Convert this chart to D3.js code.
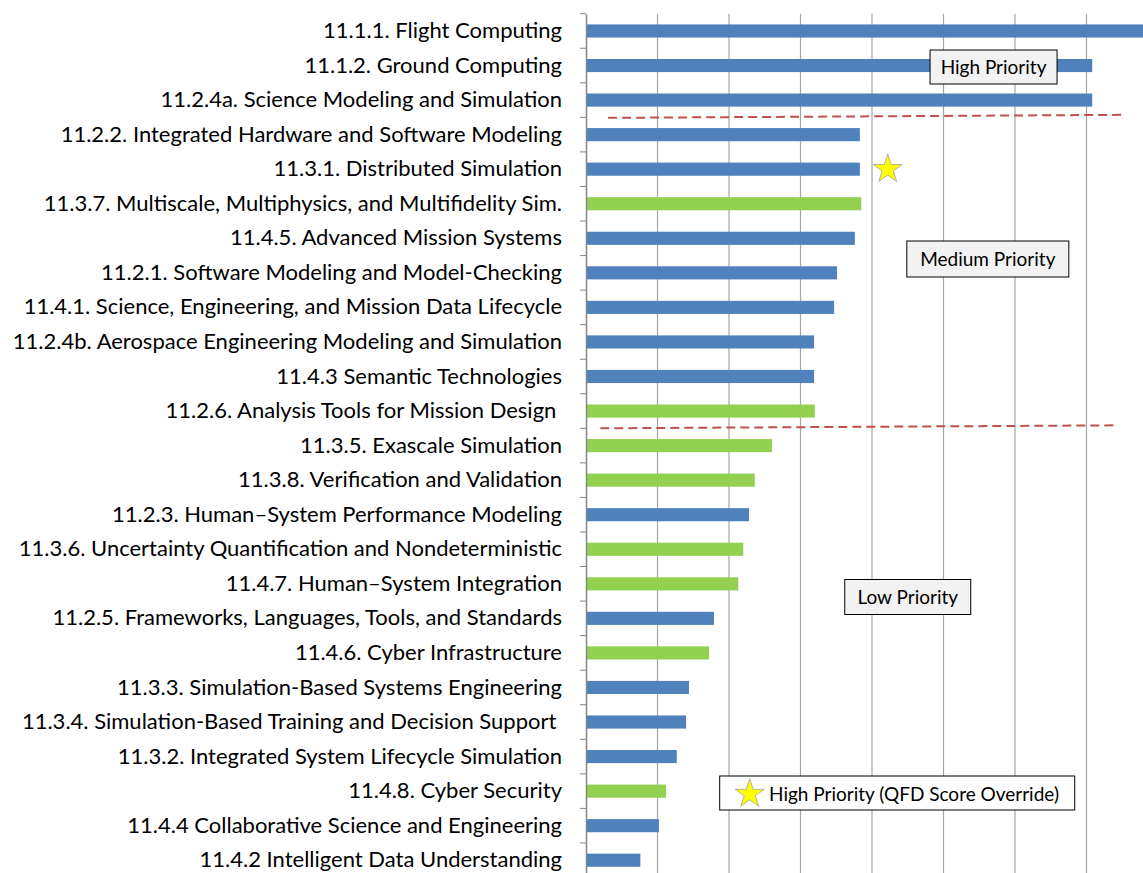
<!DOCTYPE html>
<html><head><meta charset="utf-8">
<script src="https://cdn.jsdelivr.net/npm/d3@7"></script>
<style>body{margin:0;background:#fff}svg{display:block}text{font-family:Lato,"Open Sans",sans-serif}</style>
</head><body>
<svg id="c" width="1143" height="873"></svg>
<script>
const categories = [
"11.1.1. Flight Computing",
"11.1.2. Ground Computing",
"11.2.4a. Science Modeling and Simulation",
"11.2.2. Integrated Hardware and Software Modeling",
"11.3.1. Distributed Simulation",
"11.3.7. Multiscale, Multiphysics, and Multifidelity Sim.",
"11.4.5. Advanced Mission Systems",
"11.2.1. Software Modeling and Model-Checking",
"11.4.1. Science, Engineering, and Mission Data Lifecycle",
"11.2.4b. Aerospace Engineering Modeling and Simulation",
"11.4.3 Semantic Technologies",
"11.2.6. Analysis Tools for Mission Design\u00a0",
"11.3.5. Exascale Simulation",
"11.3.8. Verification and Validation",
"11.2.3. Human\u2013System Performance Modeling",
"11.3.6. Uncertainty Quantification and Nondeterministic",
"11.4.7. Human\u2013System Integration",
"11.2.5. Frameworks, Languages, Tools, and Standards",
"11.4.6. Cyber Infrastructure",
"11.3.3. Simulation-Based Systems Engineering",
"11.3.4. Simulation-Based Training and Decision Support\u00a0",
"11.3.2. Integrated System Lifecycle Simulation",
"11.4.8. Cyber Security",
"11.4.4 Collaborative Science and Engineering",
"11.4.2 Intelligent Data Understanding"
];
const scores = [7.9,7.08,7.08,3.83,3.83,3.85,3.76,3.51,3.47,3.19,3.19,3.20,2.60,2.36,2.28,2.20,2.13,1.79,1.72,1.44,1.40,1.27,1.12,1.02,0.76];
const groups = ["a","a","a","a","a","b","a","a","a","a","a","b","b","b","a","b","b","a","b","a","a","a","b","a","a"];
const groupColors = {a:"#4F81BD", b:"#92D050"};
const xTicks = [1,2,3,4,5,6,7,8];
const priorityLabels = ["High Priority","Medium Priority","Low Priority"];
const legendLabel = "High Priority (QFD Score Override)";
const starCategory = "11.3.1. Distributed Simulation";

const svg = d3.select("#c");
const x = d3.scaleLinear().domain([0,8]).range([586,1158]);
const y = d3.scaleBand().domain(categories).range([13.7,877.5]).paddingInner(0.62).paddingOuter(0.31);
const step = y.step();

// gridlines
svg.append("g").selectAll("line").data(xTicks).join("line")
  .attr("x1",d=>x(d)).attr("x2",d=>x(d)).attr("y1",13.7).attr("y2",877.5)
  .attr("stroke","#A6A6A6").attr("stroke-width",1.2);

// bars
svg.append("g").selectAll("rect").data(categories).join("rect")
  .attr("x",x(0)).attr("y",d=>y(d)).attr("height",y.bandwidth())
  .attr("width",(d,i)=>x(scores[i])-x(0))
  .attr("fill",(d,i)=>groupColors[groups[i]]);

// axis
const ax = svg.append("g").attr("transform",`translate(${x(0)},0)`)
  .call(d3.axisLeft(y).tickSize(0).tickPadding(24));
ax.select(".domain").attr("stroke","#868686").attr("stroke-width",1.5);
ax.selectAll("text").attr("font-size",22).attr("fill","#000").style("white-space","pre");
// tick marks at band boundaries
const bounds = d3.range(categories.length+1).map(i=>13.7+i*step);
svg.append("g").selectAll("line").data(bounds).join("line")
  .attr("x1",x(0)-6).attr("x2",x(0)).attr("y1",d=>d).attr("y2",d=>d)
  .attr("stroke","#868686").attr("stroke-width",1);

// dashed separators
const b1 = y(categories[3]) - (step - y.bandwidth())/2;
const b2 = y(categories[12]) - (step - y.bandwidth())/2;
function dash(x1v,x2v,yb,dy1,dy2){
  svg.append("line").attr("x1",x(x1v)).attr("x2",x(x2v)).attr("y1",yb+dy1).attr("y2",yb+dy2)
   .attr("stroke","#C0504D").attr("stroke-width",2).attr("stroke-dasharray","9,5");
}
dash(0.31,7.5,b1,0.5,-2.5);
dash(0.2,7.42,b2,0,-3);

function box(cx,cy,w,h,label,fill){
  const g = svg.append("g");
  g.append("rect").attr("x",cx-w/2).attr("y",cy-h/2).attr("width",w).attr("height",h)
   .attr("fill",fill).attr("stroke","#000").attr("stroke-width",1);
  g.append("text").attr("x",cx).attr("y",cy).attr("text-anchor","middle").attr("dy","0.35em")
   .attr("font-size",19).text(label);
}
box(x(5.7),67,127,34,priorityLabels[0],"#F2F2F2");
box(x(5.62),259,162,36,priorityLabels[1],"#F2F2F2");
box(x(4.5),597,126,35,priorityLabels[2],"#F2F2F2");

// legend
const lg = svg.append("g");
lg.append("rect").attr("x",x(1.87)).attr("y",776).attr("width",355).attr("height",34)
  .attr("fill","#fff").attr("stroke","#000");
const star = d3.symbol().type(d3.symbolStar).size(260);
lg.append("path").attr("d",star).attr("transform",`translate(${x(2.29)},794)`)
  .attr("fill","#FFFF00").attr("stroke","#A0A0A0").attr("stroke-width",0.8);
lg.append("text").attr("x",x(2.56)).attr("y",794).attr("dy","0.35em").attr("font-size",19).text(legendLabel);

// star marker
svg.append("path").attr("d",star)
  .attr("transform",`translate(${x(4.22)},${y(starCategory)+y.bandwidth()/2})`)
  .attr("fill","#FFFF00").attr("stroke","#A0A0A0").attr("stroke-width",0.8);
</script>
</body></html>
